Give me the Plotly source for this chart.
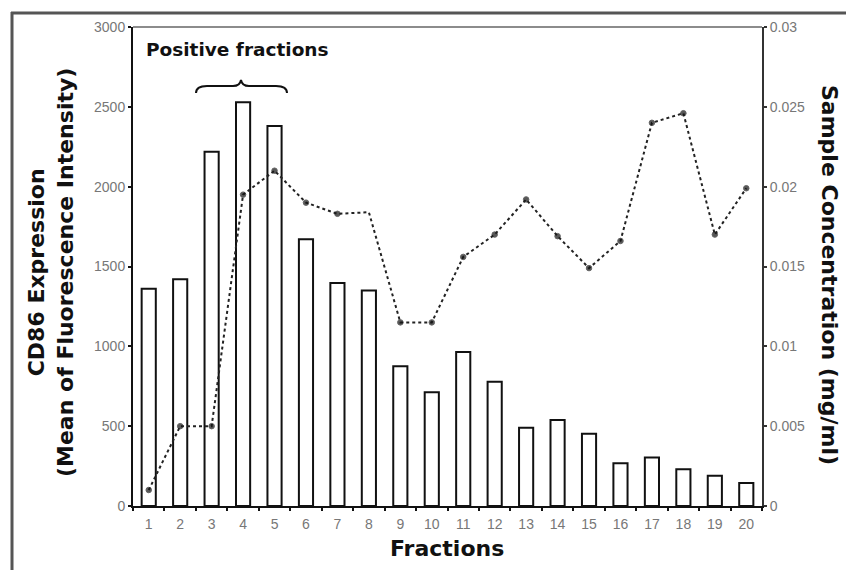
import plotly.graph_objects as go

# ---- data ----
fractions = [str(i) for i in range(1, 21)]
cd86_expression = [1360, 1420, 2219, 2528, 2380, 1670, 1396, 1350, 875, 712,
                   964, 778, 490, 538, 453, 267, 303, 230, 190, 144]
sample_concentration = [0.0010, 0.0050, 0.0050, 0.0195, 0.0210, 0.0190, 0.0183, 0.0184,
                        0.0115, 0.0115, 0.0156, 0.0170, 0.0192, 0.0169, 0.0149, 0.0166,
                        0.0240, 0.0246, 0.0170, 0.0199]
left_ticks = [0, 500, 1000, 1500, 2000, 2500, 3000]
right_ticks = [0, 0.005, 0.01, 0.015, 0.02, 0.025, 0.03]

# ---- geometry (pixels) ----
W, H = 846, 570
L, R, T, B = 133, 762, 27, 506
PW, PH = R - L, B - T


def px(x):
    return (x - L) / PW


def py(y):
    return (B - y) / PH


marker_sizes = [5.5] * 20
marker_sizes[7] = 0

title_font = dict(family="DejaVu Sans", size=22, color="#111")
tick_font = dict(family="Liberation Sans, Arial", size=14, color="#777")

fig = go.Figure()
fig.add_trace(go.Bar(
    x=fractions, y=cd86_expression,
    marker=dict(color="white", line=dict(color="#111", width=2)),
    width=0.45, yaxis="y", showlegend=False,
))
fig.add_trace(go.Scatter(
    x=fractions, y=sample_concentration, mode="lines+markers",
    line=dict(color="#222", width=2, dash="dot"),
    marker=dict(color="#111", size=marker_sizes),
    yaxis="y2", showlegend=False,
))

fig.update_layout(
    width=W, height=H,
    margin=dict(l=L, r=W - R, t=T, b=H - B, pad=0),
    paper_bgcolor="white", plot_bgcolor="white",
    bargap=0.55,
    xaxis=dict(
        type="category", range=[-0.5, 19.5], tickson="boundaries",
        ticks="outside", ticklen=3, tickwidth=2, tickcolor="#111",
        showline=True, linecolor="#111", linewidth=2, ticklabelstandoff=4,
        showgrid=False, zeroline=False, tickfont=tick_font,
    ),
    yaxis=dict(
        range=[0, 3000], tickvals=left_ticks, tickformat="d",
        ticks="outside", ticklen=3, tickwidth=2, tickcolor="#111",
        showline=True, linecolor="#111", linewidth=2,
        showgrid=False, zeroline=False, tickfont=tick_font,
    ),
    yaxis2=dict(
        range=[0, 0.03], tickvals=right_ticks, overlaying="y", side="right",
        ticks="outside", ticklen=3, tickwidth=2, tickcolor="#333",
        showline=True, linecolor="#333", linewidth=2,
        showgrid=False, zeroline=False, tickfont=tick_font,
    ),
    font=dict(family="Liberation Sans, Arial"),
)

shapes = [
    # top border of plot area
    dict(type="line", xref="paper", yref="paper", x0=0, x1=1, y0=1, y1=1,
         line=dict(color="#666", width=1.5)),
    # outer frame top and left
    dict(type="line", xref="paper", yref="paper", x0=px(11), x1=px(846), y0=py(13), y1=py(13),
         line=dict(color="#555", width=3)),
    dict(type="line", xref="paper", yref="paper", x0=px(12), x1=px(12), y0=py(12), y1=py(570),
         line=dict(color="#555", width=3)),
]

# curly brace over positive fractions
pts = [(196, 93), (196, 86), (207, 86), (233, 86), (240, 86), (241, 80),
       (242, 86), (249, 86), (276, 86), (287, 86), (287, 93)]
p = [(px(a), py(b)) for a, b in pts]
path = (f"M{p[0][0]},{p[0][1]} Q{p[1][0]},{p[1][1]} {p[2][0]},{p[2][1]} "
        f"L{p[3][0]},{p[3][1]} Q{p[4][0]},{p[4][1]} {p[5][0]},{p[5][1]} "
        f"Q{p[6][0]},{p[6][1]} {p[7][0]},{p[7][1]} L{p[8][0]},{p[8][1]} "
        f"Q{p[9][0]},{p[9][1]} {p[10][0]},{p[10][1]}")
shapes.append(dict(type="path", xref="paper", yref="paper", path=path,
                   line=dict(color="#111", width=2)))
fig.update_layout(shapes=shapes)

annotations = [
    dict(text="<b>Positive fractions</b>", x=px(144), y=py(50), xanchor="left", yanchor="middle",
         font=dict(family="DejaVu Sans", size=18.5, color="#111")),
    dict(text="<b>CD86 Expression<br>(Mean of Fluorescence Intensity)</b>", x=px(51), y=py(273),
         textangle=-90, xanchor="center", yanchor="middle", font=title_font),
    dict(text="<b>Sample Concentration (mg/ml)</b>", x=px(830), y=py(275),
         textangle=90, xanchor="center", yanchor="middle", font=title_font),
    dict(text="<b>Fractions</b>", x=px(447), y=py(548),
         xanchor="center", yanchor="middle", font=title_font),
]
for a in annotations:
    a.update(xref="paper", yref="paper", showarrow=False)
fig.update_layout(annotations=annotations)

fig.write_html("out.html")
